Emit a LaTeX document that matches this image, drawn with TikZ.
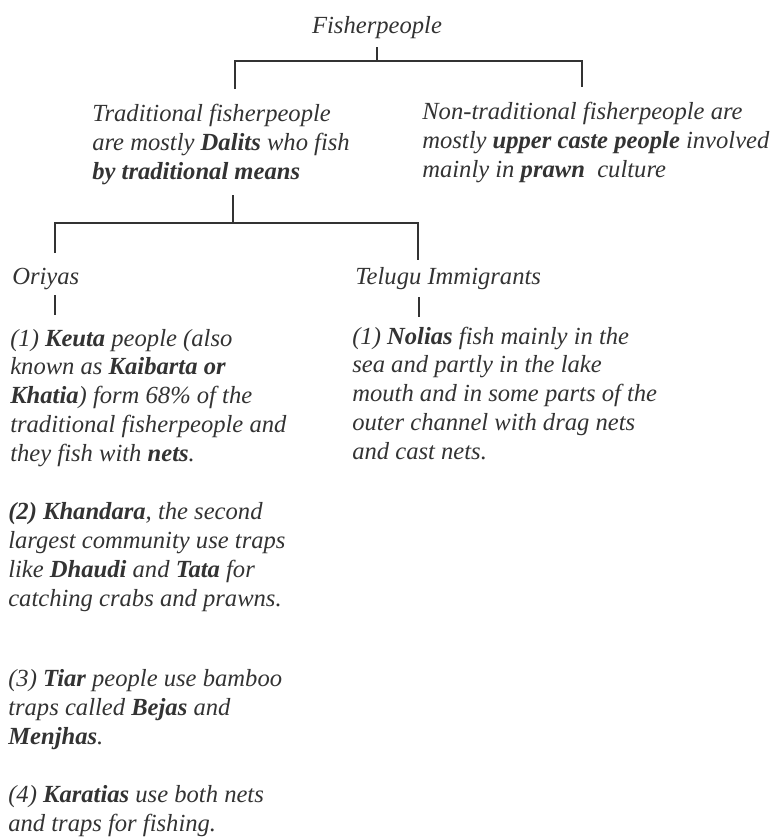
\documentclass[tikz,border=0pt]{standalone}
\usepackage{fontspec}
\setmainfont{Liberation Serif}
\usetikzlibrary{positioning}
\definecolor{ink}{gray}{0.2}
\tikzset{
	textblock/.style = {font=\fontsize{17.5}{20.4}\selectfont\itshape, text=ink,
		inner sep=0pt, align=left, anchor=base west},% bloc de texte, ancre sur la derniere ligne
	headnode/.style = {textblock, anchor=base, align=center},% titre
	link/.style = {draw=ink, line width=1.5pt}% trait du crochet
}

\begin{document}
\begin{tikzpicture}[x=0.025cm, y=-0.025cm]
	\useasboundingbox (0,0) rectangle (780,837);
	% niveau 1
	\node [headnode] (fish) at (377,33) {Fisherpeople};
	% niveau 2
	\node [textblock] (trad) at (92,179) {Traditional fisherpeople\\
		are mostly \textbf{Dalits} who fish\\
		\textbf{by traditional means}};
	\node [textblock] (nontrad) at (422,177) {Non-traditional fisherpeople are\\
		mostly \textbf{upper caste people} involved\\
		mainly in \textbf{prawn}\ \ culture};
	% niveau 3
	\node [textblock] (oriya) at (12,284) {Oriyas};
	\node [textblock] (telugu) at (355,284) {Telugu Immigrants};
	% niveau 4
	\node [textblock] (keuta) at (10,461) {(1) \textbf{Keuta} people (also\\
		known as \textbf{Kaibarta or}\\
		\textbf{Khatia}) form 68\% of the\\
		traditional fisherpeople and\\
		they fish with \textbf{nets}.};
	\node [textblock] (nolia) at (352,459) {(1) \textbf{Nolias} fish mainly in the\\
		sea and partly in the lake\\
		mouth and in some parts of the\\
		outer channel with drag nets\\
		and cast nets.};
	\node [textblock] (khandara) at (8,606) {\textbf{(2) Khandara}, the second\\
		largest community use traps\\
		like \textbf{Dhaudi} and \textbf{Tata} for\\
		catching crabs and prawns.};
	\node [textblock] (tiar) at (8,744) {(3) \textbf{Tiar} people use bamboo\\
		traps called \textbf{Bejas} and\\
		\textbf{Menjhas}.};
	\node [textblock] (karatia) at (8,831) {(4) \textbf{Karatias} use both nets\\
		and traps for fishing.};
	% crochets
	\coordinate (fish-s) at (377,47);
	\coordinate (bar1) at (377,61);
	\coordinate (trad-n) at (235,89);
	\coordinate (nontrad-n) at (582,87);
	\draw [link] (fish-s) -- (bar1);
	\draw [link] (trad-n) |- (bar1) -| (nontrad-n);
	\coordinate (trad-s) at (233,195);
	\coordinate (bar2) at (233,223);
	\coordinate (oriya-n) at (55,253);
	\coordinate (telugu-n) at (418,260);
	\draw [link] (trad-s) -- (bar2);
	\draw [link] (oriya-n) |- (bar2) -| (telugu-n);
	\coordinate (oriya-s) at (55,295);
	\coordinate (keuta-n) at (55,315);
	\coordinate (telugu-s) at (419,297);
	\coordinate (nolia-n) at (419,317);
	\draw [link] (oriya-s) -- (keuta-n);
	\draw [link] (telugu-s) -- (nolia-n);
\end{tikzpicture}
\end{document}
